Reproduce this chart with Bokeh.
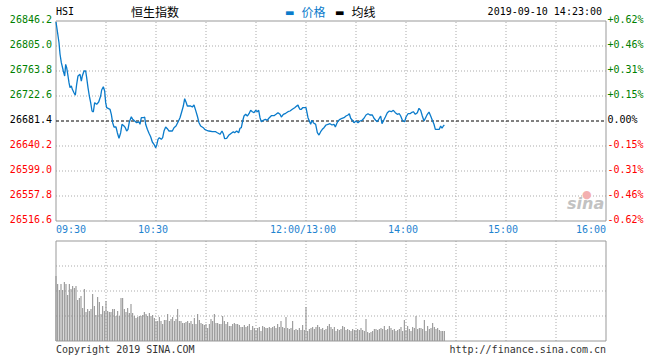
from bokeh.plotting import figure
from bokeh.models import Range1d, Label
from bokeh.embed import file_html
from bokeh.resources import INLINE

# ---------------- data ----------------
# trading minutes since 09:30 (12:00 and 13:00 share minute 150)
t_min = [
    0, 0.8, 1.8, 2.4, 3.2, 4.4, 5.2, 5.8, 6.4, 7.2,
    7.8, 8.4, 9.2, 9.8, 10.8, 11.6, 12.4, 13.2, 14.4, 15.2,
    15.8, 16.8, 17.8, 18.4, 19.2, 20.0, 20.8, 21.6, 22.4, 23.2,
    24.4, 25.6, 26.8, 27.4, 28.4, 29.2, 29.8, 30.4, 32.4, 33.2,
    34.0, 34.8, 36.0, 36.8, 37.8, 38.8, 39.6, 40.8, 41.6, 42.4,
    43.2, 44.0, 45.2, 46.0, 47.2, 48.4, 49.8, 50.4, 51.2, 52.4,
    53.2, 53.8, 54.8, 55.8, 56.8, 57.8, 58.8, 59.8, 60.4, 61.2,
    62.0, 63.2, 64.0, 64.8, 65.8, 66.8, 67.8, 69.8, 70.8, 72.0,
    73.2, 74.4, 75.4, 76.4, 77.2, 78.0, 78.8, 80.8, 81.8, 82.8,
    83.8, 84.8, 85.8, 86.8, 88.4, 89.2, 90.4, 91.8, 93.8, 95.8,
    96.8, 98.4, 99.6, 100.4, 101.2, 102.4, 103.6, 104.8, 106.4, 107.2,
    108.4, 109.6, 110.4, 111.2, 112.0, 112.8, 113.8, 114.8, 115.8, 116.8,
    117.8, 118.8, 119.8, 120.8, 121.6, 122.4, 123.2, 124.4, 125.6, 126.8,
    128.0, 129.2, 130.8, 132.0, 133.2, 134.4, 135.2, 136.4, 137.8, 139.2,
    140.4, 141.8, 143.2, 144.4, 145.2, 145.8, 146.4, 147.2, 148.0, 150.0,
    151.2, 152.0, 152.8, 153.6, 154.4, 155.2, 155.8, 156.8, 157.8, 158.8,
    159.8, 160.8, 162.0, 163.2, 164.4, 165.6, 166.8, 167.6, 168.4, 169.2,
    170.4, 171.6, 172.8, 174.0, 175.2, 176.0, 176.8, 177.8, 178.8, 180.0,
    181.2, 182.4, 183.6, 184.8, 186.0, 187.2, 188.4, 189.8, 190.8, 191.8,
    192.8, 194.0, 194.8, 195.6, 196.4, 197.6, 198.8, 200.0, 201.2, 202.4,
    203.6, 204.8, 206.0, 206.8, 208.0, 209.2, 210.0, 211.2, 212.4, 213.2,
    214.4, 215.6, 216.8, 217.8, 218.8, 219.8, 220.8, 222.0, 222.8, 223.8,
    224.8, 225.8, 226.8, 227.6, 228.8, 230.0, 230.8, 231.6, 232.4, 233.0,
]
price = [
    26844.6, 26829.7, 26810.4, 26791.8, 26777.5, 26763.8, 26755.6, 26774.8, 26769.2, 26755.6,
    26744.5, 26736.3, 26739.1, 26733.6, 26728.0, 26723.8, 26741.9, 26755.6, 26758.4, 26747.3,
    26755.6, 26763.8, 26763.8, 26752.8, 26736.3, 26722.6, 26711.6, 26697.9, 26696.2, 26711.6,
    26708.9, 26712.7, 26722.6, 26732.5, 26737.9, 26730.8, 26711.6, 26703.3, 26700.7, 26692.4,
    26678.6, 26671.5, 26671.5, 26662.1, 26652.9, 26662.1, 26676.0, 26673.2, 26670.4, 26664.9,
    26667.7, 26679.8, 26688.5, 26684.2, 26681.4, 26678.6, 26679.8, 26676.0, 26686.8, 26686.8,
    26688.0, 26676.0, 26667.7, 26661.1, 26655.5, 26646.8, 26643.0, 26637.4, 26641.4, 26651.2,
    26653.9, 26651.2, 26653.9, 26664.9, 26671.5, 26668.7, 26664.9, 26664.9, 26670.4, 26673.2,
    26679.8, 26686.8, 26696.2, 26706.1, 26718.1, 26712.7, 26706.1, 26706.1, 26704.5, 26707.8,
    26699.0, 26689.6, 26678.6, 26673.2, 26670.4, 26667.7, 26666.1, 26664.9, 26663.8, 26663.8,
    26662.1, 26659.5, 26664.9, 26660.5, 26652.2, 26652.9, 26657.8, 26660.5, 26663.8, 26662.1,
    26664.9, 26662.1, 26669.4, 26670.4, 26681.4, 26689.6, 26692.4, 26689.6, 26693.4, 26699.0,
    26696.7, 26695.1, 26699.0, 26696.7, 26699.0, 26686.8, 26680.2, 26682.6, 26684.2, 26682.6,
    26686.8, 26690.1, 26690.1, 26692.4, 26695.1, 26692.4, 26688.0, 26692.4, 26694.1, 26696.7,
    26697.9, 26700.7, 26703.3, 26706.1, 26707.8, 26703.3, 26700.7, 26700.7, 26703.3, 26703.3,
    26686.8, 26681.4, 26676.0, 26682.6, 26678.6, 26677.0, 26676.0, 26662.1, 26658.3, 26663.8,
    26667.7, 26670.4, 26674.8, 26676.0, 26677.0, 26674.8, 26676.0, 26671.5, 26677.0, 26681.4,
    26684.2, 26685.9, 26686.8, 26689.6, 26691.3, 26693.4, 26685.9, 26682.6, 26678.6, 26681.4,
    26678.6, 26681.4, 26682.6, 26685.9, 26691.3, 26693.4, 26691.3, 26691.3, 26685.9, 26682.6,
    26680.2, 26685.9, 26689.6, 26677.0, 26681.4, 26688.0, 26695.1, 26697.9, 26696.7, 26699.0,
    26695.1, 26692.4, 26693.4, 26689.6, 26681.4, 26680.2, 26688.0, 26693.4, 26693.4, 26695.1,
    26696.7, 26692.4, 26695.1, 26702.3, 26699.0, 26689.6, 26681.4, 26688.0, 26692.4, 26696.2,
    26689.6, 26682.6, 26676.0, 26667.7, 26667.7, 26667.7, 26673.2, 26669.4, 26673.2, 26674.8,
]
# per-minute volume (relative units, panel top = 100)
volume = [
    65, 57, 51, 57, 51, 59, 57, 46, 57, 52, 55,
    53, 55, 41, 43, 45, 33, 52, 29, 32, 30,
    32, 47, 35, 26, 44, 39, 27, 35, 30, 40,
    30, 29, 29, 32, 32, 25, 30, 25, 43, 43,
    32, 29, 33, 28, 37, 28, 25, 23, 24, 25,
    25, 26, 29, 27, 25, 28, 25, 26, 23, 20,
    20, 24, 20, 17, 21, 21, 27, 20, 22, 24,
    20, 22, 32, 20, 20, 18, 18, 19, 20, 18,
    20, 17, 23, 17, 27, 21, 18, 17, 16, 17,
    13, 17, 22, 20, 27, 18, 18, 17, 17, 25,
    20, 17, 19, 15, 15, 17, 18, 17, 17, 16,
    14, 14, 16, 14, 15, 17, 11, 15, 13, 11,
    13, 14, 10, 15, 14, 13, 13, 14, 13, 14,
    15, 13, 17, 14, 20, 14, 13, 24, 13, 12,
    13, 20, 11, 12, 11, 13, 11, 16, 11, 34,
    10, 12, 13, 14, 12, 14, 16, 14, 12, 13,
    11, 12, 15, 17, 14, 12, 14, 10, 12, 11,
    12, 15, 14, 11, 12, 11, 10, 12, 11, 11,
    12, 11, 13, 11, 10, 22, 9, 8, 9, 10,
    12, 12, 11, 12, 13, 12, 15, 11, 12, 15,
    13, 11, 12, 10, 11, 12, 14, 10, 21, 11,
    15, 12, 10, 14, 13, 25, 12, 13, 13, 12,
    21, 10, 15, 12, 13, 18, 14, 12, 13, 11, 10, 10, 10,
]
vol_min = list(range(len(volume)))

prev_close = 26681.4
price_ticks = [26846.2, 26805.0, 26763.8, 26722.6, 26681.4, 26640.2, 26599.0, 26557.8, 26516.6]
pct_labels = ["+0.62%", "+0.46%", "+0.31%", "+0.15%", "0.00%", "-0.15%", "-0.31%", "-0.46%", "-0.62%"]
grid_minutes = [0, 30, 60, 90, 120, 150, 180, 210, 240, 270, 300, 330]
time_ticks = [0, 60, 150, 210, 270, 330]
time_labels = ["09:30", "10:30", "12:00/13:00", "14:00", "15:00", "16:00"]
vol_grid = [0, 25, 50, 75, 100]

# ---------------- layout (pixels) ----------------
W, H = 660, 360
PLOT_L, PLOT_W = 55.5, 550          # price/volume panel left edge & width
PRICE_T, PRICE_H = 20.5, 200        # price panel top & height
VOL_T, VOL_H = 240.5, 100           # volume panel top & height

t_lo, t_hi = grid_minutes[0], grid_minutes[-1]
p_hi, p_lo = price_ticks[0], price_ticks[-1]
v_lo, v_hi = vol_grid[0], vol_grid[-1]
sx = (t_hi - t_lo) / PLOT_W
sp = (p_hi - p_lo) / PRICE_H
sv = (v_hi - v_lo) / VOL_H
x_range = Range1d(t_lo - PLOT_L * sx, t_lo + (W - PLOT_L) * sx)
y_range = Range1d(p_hi - (H - PRICE_T) * sp, p_hi + PRICE_T * sp)
vol_range = Range1d(v_hi - (H - VOL_T) * sv, v_hi + VOL_T * sv)

MONO = "DejaVu Sans Mono"
CJK = "Noto Sans CJK SC"
BLUE = "#0a7bcb"
LBLUE = "#1f84d0"
GRID = "#ababab"
FRAME = "#999999"

p = figure(width=W, height=H, x_range=x_range, y_range=y_range,
           extra_y_ranges={"vol": vol_range},
           output_backend="svg", toolbar_location=None,
           x_axis_location=None, y_axis_location=None,
           min_border=0, min_border_left=0, min_border_right=0,
           min_border_top=0, min_border_bottom=0)
p.grid.visible = False
p.outline_line_color = None
p.background_fill_color = "white"
p.border_fill_color = "white"

# price panel grid
inner_t = grid_minutes[1:-1]
p.segment(x0=inner_t, x1=inner_t, y0=[p_lo] * len(inner_t), y1=[p_hi] * len(inner_t),
          line_color=GRID, line_dash="1 2", line_width=1)
inner_p = [v for v in price_ticks[1:-1] if v != prev_close]
p.segment(x0=[t_lo] * len(inner_p), x1=[t_hi] * len(inner_p), y0=inner_p, y1=inner_p,
          line_color=GRID, line_dash="1 2", line_width=1)
p.quad(left=[t_lo], right=[t_hi], bottom=[p_lo], top=[p_hi],
       fill_color=None, line_color=FRAME, line_width=1)
p.segment(x0=[t_lo], x1=[t_hi], y0=[prev_close], y1=[prev_close],
          line_color="black", line_dash="3 2", line_width=1)
p.line(t_min, price, line_color=BLUE, line_width=1.3)

# volume panel
p.segment(x0=inner_t, x1=inner_t, y0=[v_lo] * len(inner_t), y1=[v_hi] * len(inner_t),
          line_color=GRID, line_dash="1 2", line_width=1, y_range_name="vol")
inner_v = vol_grid[1:-1]
p.segment(x0=[t_lo] * len(inner_v), x1=[t_hi] * len(inner_v), y0=inner_v, y1=inner_v,
          line_color=GRID, line_dash="1 2", line_width=1, y_range_name="vol")
p.vbar(x=vol_min, top=volume, bottom=0, width=0.62, fill_color="#8e8e8e",
       line_color=None, y_range_name="vol")
p.quad(left=[t_lo], right=[t_hi], bottom=[v_lo], top=[v_hi],
       fill_color=None, line_color=FRAME, line_width=1, y_range_name="vol")


def lab(x, y, text, align="left", color="black", font=MONO, size="10px",
        xo=0, yo=0, style="normal", yr="default"):
    p.add_layout(Label(x=x, y=y, text=text, y_range_name=yr,
                       text_align=align, text_baseline="middle", text_color=color,
                       text_font=font, text_font_size=size, x_offset=xo,
                       y_offset=yo, text_font_style=style))


for v, s in zip(price_ticks, pct_labels):
    c = "#008000" if v > prev_close else ("black" if v == prev_close else "#ff0000")
    lab(t_lo, v, f"{v:.1f}", align="right", color=c, xo=-4, yo=2)
    lab(t_hi, v, s, align="left", color=c, xo=1.5, yo=2)

for t, s in zip(time_ticks, time_labels):
    if t == time_ticks[0]:
        lab(t, p_lo, s, align="left", color=LBLUE, yo=-8)
    elif t == time_ticks[-1]:
        lab(t, p_lo, s, align="right", color=LBLUE, yo=-8)
    else:
        lab(t, p_lo, s, align="center", color=LBLUE, xo=-3, yo=-8)

# header
lab(t_lo, p_hi, "HSI", yo=10)
lab(t_lo, p_hi, "恒生指数", font=CJK, size="12px", xo=75, yo=10)
lab(t_lo, p_hi, "▬", color=BLUE, font="DejaVu Sans", size="10px", xo=229, yo=9)
lab(t_lo, p_hi, "价格", color=BLUE, font=CJK, size="12px", xo=245.5, yo=10)
lab(t_lo, p_hi, "▬", color="black", font="DejaVu Sans", size="10px", xo=279, yo=9)
lab(t_lo, p_hi, "均线", color="black", font=CJK, size="12px", xo=295.5, yo=10)
lab(t_hi, p_hi, "2019-09-10 14:23:00", align="right", xo=-4, yo=10)

# watermark
lab(t_hi, p_lo, "●", color="#f3b0b0", font="DejaVu Sans", size="11px", xo=-24, yo=27)
lab(t_hi, p_lo, "sina", color="#c2c2c2", font="DejaVu Sans", size="16px",
    style="bold italic", xo=-39, yo=18)

# footer
lab(t_lo, v_lo, "Copyright 2019 SINA.COM", color="#333333", yo=-8.5, yr="vol")
lab(t_hi, v_lo, "http://finance.sina.com.cn", align="right", color="#333333",
    yo=-8.5, yr="vol")

open("out.html", "w").write(file_html(p, INLINE))
